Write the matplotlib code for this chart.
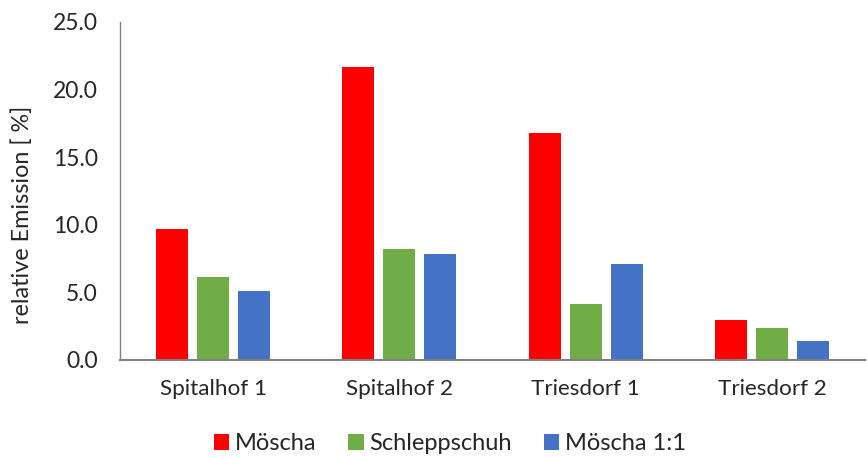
import matplotlib.pyplot as plt
import numpy as np

plt.rcParams["font.family"] = ["Lato", "DejaVu Sans"]

sites = ["Spitalhof 1", "Spitalhof 2", "Triesdorf 1", "Triesdorf 2"]
series = ["Möscha", "Schleppschuh", "Möscha 1:1"]
moescha = [9.7, 21.7, 16.8, 2.95]
schleppschuh = [6.1, 8.2, 4.15, 2.35]
moescha_11 = [5.05, 7.8, 7.1, 1.4]
colors = ["#FF0000", "#70AD47", "#4472C4"]
yticks = [0, 5, 10, 15, 20, 25]

fig = plt.figure(figsize=(8.67, 4.58), dpi=100)
ax = fig.add_axes([0.1384, 0.2146, 0.8593, 0.7374])

x = np.arange(len(sites))
width = 0.172
stride = 0.22
for i, (vals, name) in enumerate(zip([moescha, schleppschuh, moescha_11], series)):
    ax.bar(x + (i - 1) * stride, vals, width, color=colors[i], label=name, zorder=2)

ax.set_xlim(-0.5, len(sites) - 0.5)
ax.set_ylim(0, 25)
ax.set_yticks(yticks)
ax.set_yticklabels([f"{v:.1f}" for v in yticks])
ax.set_xticks(x)
ax.set_xticklabels(sites)
ax.tick_params(axis="both", length=0, colors="#262626")
ax.tick_params(axis="x", labelsize=16.2, pad=14)
ax.tick_params(axis="y", labelsize=16.5, pad=16)

for s in ["top", "right"]:
    ax.spines[s].set_visible(False)
ax.spines["left"].set_color("#808080")
ax.spines["bottom"].set_color("#808080")
ax.spines["left"].set_linewidth(1.0)
ax.spines["bottom"].set_linewidth(1.5)

ax.set_ylabel("relative Emission [ %]", fontsize=16.8, color="#262626")
ax.yaxis.set_label_coords(-0.117, 0.428)

fig.legend(
    loc="center", bbox_to_anchor=(0.519, 0.031), ncol=3, frameon=False,
    fontsize=17, handlelength=0.64, handleheight=0.64, handletextpad=0.25,
    columnspacing=1.35, labelcolor="#262626",
)

fig.savefig("out.png", dpi=100)
plt.close()
